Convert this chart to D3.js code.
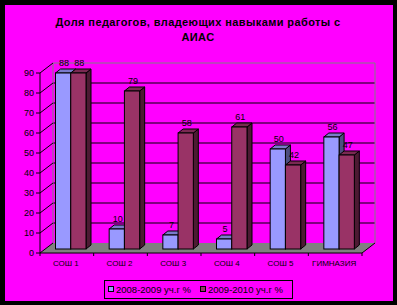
<!DOCTYPE html>
<html>
<head>
<meta charset="utf-8">
<script src="https://cdn.jsdelivr.net/npm/d3@7"></script>
<style>
  body { margin: 0; background: #000; }
  svg { display: block; font-family: "Liberation Sans", Arial, sans-serif; }
</style>
</head>
<body>
<div id="chart"></div>
<script>
var categories = ["СОШ 1", "СОШ 2", "СОШ 3", "СОШ 4", "СОШ 5", "ГИМНАЗИЯ"];
var seriesNames = ["2008-2009 уч.г %", "2009-2010 уч.г %"];
var values2008 = [88, 10, 7, 5, 50, 56];
var values2010 = [88, 79, 58, 61, 42, 47];
var yTicks = [0, 10, 20, 30, 40, 50, 60, 70, 80, 90];

var W = 397, H = 305;
var depth = {x: 13, y: 10};      // wall depth
var barOff = {x: 5, y: 4};       // where the bars sit inside the depth
var barDepth = {x: 5, y: 4};     // depth of one bar
var colors = [
  {front: "#9999ff", top: "#7a7acc", side: "#4d4d80"},
  {front: "#993366", top: "#7a2952", side: "#4d1a33"}
];

var svg = d3.select("#chart").append("svg")
  .attr("width", W).attr("height", H);

// frame
svg.append("rect").attr("x", 0).attr("y", 0).attr("width", W).attr("height", H).attr("fill", "#000");
svg.append("rect").attr("x", 5).attr("y", 5).attr("width", 388).attr("height", 296).attr("fill", "#ff00ff");

var x = d3.scaleBand().domain(categories).range([40, 362]);
var xs = d3.scaleBand().domain([0, 1]).range([10.5, 41]);
var y = d3.scaleLinear().domain([0, 90]).range([253, 73]);

var x0 = x.range()[0], x1 = x.range()[1];

// floor
svg.append("polygon")
  .attr("points", [[x0, y(0)], [x1, y(0)], [x1 + depth.x, y(0) - depth.y], [x0 + depth.x, y(0) - depth.y]].join(" "))
  .attr("fill", "#808080");

// back wall grid
svg.append("g").selectAll("line")
  .data(yTicks.filter(function(d) { return d > 0 && d < 90; }))
  .join("line")
  .attr("x1", x0 + depth.x).attr("x2", x1 + depth.x)
  .attr("y1", function(d) { return y(d) - depth.y; })
  .attr("y2", function(d) { return y(d) - depth.y; })
  .attr("stroke", "#000");

// wall border
svg.append("path")
  .attr("d", "M" + (x0 + depth.x) + "," + (y(0) - depth.y) + "V" + (y(90) - depth.y) +
    "H" + (x1 + depth.x) + "V" + (y(0) - depth.y))
  .attr("fill", "none").attr("stroke", "#808080");

// left wall diagonals and ticks
var yAxis = svg.append("g");
yAxis.selectAll("line.diag").data(yTicks).join("line").attr("class", "diag")
  .attr("x1", x0).attr("y1", function(d) { return y(d); })
  .attr("x2", x0 + depth.x).attr("y2", function(d) { return y(d) - depth.y; })
  .attr("stroke", "#000");
yAxis.selectAll("line.tick").data(yTicks).join("line").attr("class", "tick")
  .attr("x1", x0 - 4).attr("x2", x0)
  .attr("y1", function(d) { return y(d); }).attr("y2", function(d) { return y(d); })
  .attr("stroke", "#000");
yAxis.append("line").attr("x1", x0).attr("x2", x0).attr("y1", y(0)).attr("y2", y(90)).attr("stroke", "#000");
yAxis.selectAll("text").data(yTicks).join("text")
  .attr("x", x0 - 6).attr("y", function(d) { return y(d) + 3; })
  .attr("text-anchor", "end").attr("font-size", 9).attr("fill", "#000")
  .text(function(d) { return d; });

// category axis
var xAxis = svg.append("g");
xAxis.append("line").attr("x1", x0).attr("x2", x1).attr("y1", y(0)).attr("y2", y(0)).attr("stroke", "#000");
xAxis.append("line").attr("x1", x1).attr("x2", x1 + depth.x).attr("y1", y(0)).attr("y2", y(0) - depth.y).attr("stroke", "#000");
xAxis.selectAll("line.tick").data(categories.concat(["end"])).join("line").attr("class", "tick")
  .attr("x1", function(d, i) { return x0 + i * x.bandwidth(); })
  .attr("x2", function(d, i) { return x0 + i * x.bandwidth(); })
  .attr("y1", y(0)).attr("y2", y(0) + 3).attr("stroke", "#000");
xAxis.selectAll("text").data(categories).join("text")
  .attr("x", function(d) { return x(d) + x.bandwidth() / 2 - 1; })
  .attr("y", 266).attr("text-anchor", "middle").attr("font-size", 8).attr("fill", "#000")
  .text(function(d) { return d; });

// bars
var bars = [];
categories.forEach(function(c, i) {
  bars.push({cat: c, s: 0, v: values2008[i]});
  bars.push({cat: c, s: 1, v: values2010[i]});
});

var base = y(0) - barOff.y;
var g = svg.append("g").selectAll("g").data(bars).join("g");
g.each(function(d) {
  var sel = d3.select(this);
  var left = x(d.cat) + barOff.x + xs(d.s);
  var right = left + xs.bandwidth();
  var top = y(d.v) - barOff.y;
  var col = colors[d.s];
  sel.append("polygon")
    .attr("points", [[right, top], [right + barDepth.x, top - barDepth.y], [right + barDepth.x, base - barDepth.y], [right, base]].join(" "))
    .attr("fill", col.side).attr("stroke", "#000");
  sel.append("polygon")
    .attr("points", [[left, top], [left + barDepth.x, top - barDepth.y], [right + barDepth.x, top - barDepth.y], [right, top]].join(" "))
    .attr("fill", col.top).attr("stroke", "#000");
  sel.append("rect")
    .attr("x", left).attr("y", top).attr("width", right - left).attr("height", base - top)
    .attr("fill", col.front).attr("stroke", "#000");
  sel.append("text")
    .attr("x", (left + right) / 2 + 1).attr("y", top - 7)
    .attr("text-anchor", "middle").attr("font-size", 9).attr("fill", "#000")
    .text(d.v);
});

// title
var title = svg.append("text").attr("x", 198).attr("font-size", 11).attr("font-weight", "bold")
  .attr("text-anchor", "middle").attr("fill", "#000").attr("letter-spacing", 0.4);
title.append("tspan").attr("x", 198).attr("y", 26).text("Доля педагогов, владеющих навыками работы с");
title.append("tspan").attr("x", 198).attr("y", 41).text("АИАС");

// legend
var legend = svg.append("g");
legend.append("rect").attr("x", 104.5).attr("y", 280.5).attr("width", 188).attr("height", 18)
  .attr("fill", "none").attr("stroke", "#000");
var lx = [108, 200];
seriesNames.forEach(function(n, i) {
  legend.append("rect").attr("x", lx[i] + 0.5).attr("y", 286.5).attr("width", 5).attr("height", 5)
    .attr("fill", colors[i].front).attr("stroke", "#000");
  legend.append("text").attr("x", lx[i] + 8).attr("y", 293).attr("font-size", 9.5).attr("fill", "#000")
    .text(n);
});
</script>
</body>
</html>
